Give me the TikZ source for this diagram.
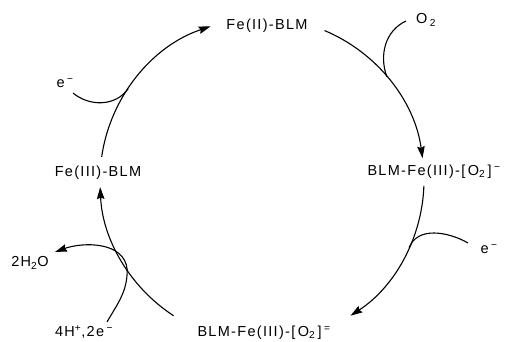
\documentclass[tikz,border=0pt]{standalone}
\usepackage{fontspec}
\setmainfont{Liberation Sans}[LetterSpace=9]
\usetikzlibrary{arrows.meta}
\begin{document}
\begin{tikzpicture}[x=1pt,y=1pt,
  lbl/.style={inner sep=0pt, font=\fontsize{14.5}{16}\selectfont},
  tipstyle/.style={-{Stealth[length=12pt,width=7.5pt,inset=1.5pt]}},
  cyc/.style={line width=1.1pt, tipstyle},
  side/.style={line width=1.1pt},
]
\useasboundingbox (0,0) rectangle (505,342);
\coordinate (C) at (262,162);
% labels
\node[lbl] (fe2)   at (267,316) {Fe(II)-BLM};
\node[lbl] (o2)    at (426,322) {O\,\textsubscript{2}};
\node[lbl] (fe3o2) at (434,170) {BLM-Fe(III)-[\,O\textsubscript{2}\,]\,\textsuperscript{−}};
\node[lbl] (er)    at (489,93)  {e\,\textsuperscript{−}};
\node[lbl] (fe3oo) at (264,9)   {BLM-Fe(III)-[\,O\textsubscript{2}\,]\,\textsuperscript{=}};
\node[lbl] (hp)    at (84,10)   {4H\textsuperscript{+},2e\,\textsuperscript{−}};
\node[lbl] (h2o)   at (30,79)   {2H\textsubscript{2}O};
\node[lbl] (fe3)   at (98,169)  {Fe(III)-BLM};
\node[lbl] (el)    at (65,259)  {e\,\textsuperscript{−}};
% cycle arc endpoints
\coordinate (a1) at ([shift={(171.8:162)}]C);
\coordinate (a2) at ([shift={(67.3:162)}]C);
\coordinate (a3) at ([shift={(-2.1:162)}]C);
\coordinate (a4) at ([shift={(236.9:162)}]C);
% junctions
\coordinate (j1) at ([shift={(145.7:162)}]C);
\coordinate (j2) at ([shift={(39.6:162)}]C);
\coordinate (j3) at ([shift={(-24.8:162)}]C);
\coordinate (j4) at ([shift={(213.7:162)}]C);
% side ends
\coordinate (el0) at (73,249);
\coordinate (o20) at (406,321);
\coordinate (er0) at (468,99);
\coordinate (h0)  at (107,20);
\coordinate (h2)  at (55,90);
% cycle arcs
\draw[cyc] (a1) arc[start angle=171.8, end angle=108.5, radius=162];
\draw[cyc] (a2) arc[start angle=67.3, end angle=7.7, radius=162];
\draw[cyc] (a3) arc[start angle=-2.1, end angle=-56.9, radius=162];
\draw[cyc] (a4) arc[start angle=236.9, end angle=182.5, radius=162];
% side branches
\draw[side] (el0) to[out=-40,in=235] (j1);
\draw[side] (o20) to[out=205,in=110] (j2);
\draw[side] (er0) to[out=150,in=70] (j3);
\draw[side,tipstyle] (h0) to[out=60,in=-90] (j4) to[out=95,in=20] (h2);
\end{tikzpicture}
\end{document}
